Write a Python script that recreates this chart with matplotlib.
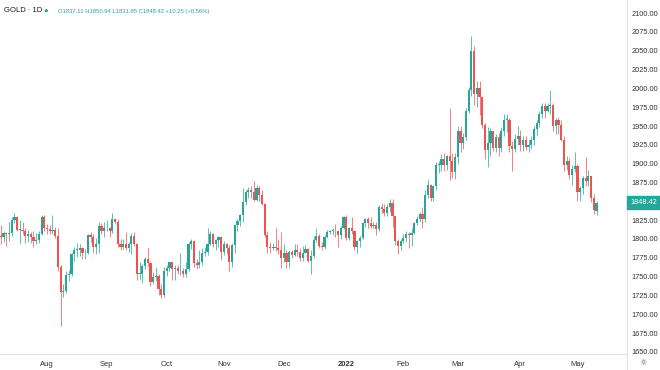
import matplotlib
matplotlib.use("Agg")
import matplotlib.pyplot as plt
import matplotlib.transforms as mtransforms
from matplotlib.lines import Line2D
import numpy as np
import pandas as pd

plt.rcParams['font.family'] = ['Liberation Sans', 'DejaVu Sans']

# daily bars, 2021-07-08 .. 2022-05-11 (weekdays)
dates = pd.bdate_range("2021-07-08", "2022-05-11")

opens = [
    1804, 1803, 1808, 1806, 1808, 1825, 1829, 1812, 1812, 1810, 1804, 1806, 1802, 1797, 1799, 1806, 1829,
    1814, 1813, 1810, 1812, 1804, 1763, 1729, 1731, 1752, 1753, 1780, 1786, 1786, 1788, 1781, 1781, 1805, 1802, 1790, 1793, 1817, 1810,
    1814, 1815, 1810, 1827, 1823, 1794, 1789, 1794, 1788, 1793, 1804, 1794, 1754, 1754, 1764, 1774, 1768, 1743, 1750, 1751, 1734, 1726,
    1757, 1761, 1769, 1760, 1762, 1757, 1757, 1754, 1760, 1793, 1797, 1768, 1765, 1770, 1782, 1783, 1793, 1806, 1793, 1798, 1802,
    1783, 1793, 1788, 1769, 1792, 1818, 1824, 1832, 1849, 1863, 1865, 1863, 1852, 1868, 1859, 1846, 1805, 1790, 1788, 1790, 1788, 1785,
    1775, 1782, 1769, 1783, 1779, 1785, 1783, 1775, 1782, 1787, 1771, 1778, 1799, 1804, 1791, 1790, 1803, 1809, 1811, 1811, 1810, 1805, 1815,
    1829, 1801, 1814, 1810, 1790, 1797, 1801, 1821, 1826, 1821, 1817, 1819, 1813, 1843, 1840, 1835, 1843, 1848, 1830, 1797, 1791,
    1797, 1801, 1807, 1805, 1808, 1821, 1826, 1833, 1827, 1859, 1872, 1855, 1870, 1898, 1898, 1906, 1898, 1910, 1903, 1889,
    1909, 1943, 1928, 1936, 1970, 1998, 2050, 1992, 2000, 1988, 1952, 1918, 1928, 1943, 1921, 1936, 1921, 1944, 1958, 1958, 1923, 1919, 1933,
    1937, 1925, 1932, 1922, 1925, 1931, 1946, 1954, 1966, 1977, 1970, 1976, 1978, 1950, 1958, 1951, 1932, 1898, 1904, 1885, 1893,
    1897, 1863, 1868, 1881, 1877, 1883, 1854, 1837.11,
]
highs = [
    1818, 1811, 1809, 1822, 1829, 1834, 1830, 1825, 1822, 1815, 1812, 1809, 1810, 1808, 1810, 1832, 1832,
    1820, 1818, 1832, 1816, 1814, 1765, 1740, 1757, 1759, 1781, 1789, 1795, 1794, 1790, 1787, 1806, 1809, 1806, 1801, 1823, 1821, 1822,
    1825, 1816, 1834, 1828, 1827, 1800, 1800, 1809, 1796, 1808, 1809, 1795, 1770, 1767, 1776, 1788, 1770, 1756, 1763, 1754, 1740, 1763,
    1765, 1770, 1770, 1765, 1765, 1781, 1761, 1770, 1796, 1800, 1798, 1773, 1785, 1788, 1790, 1814, 1810, 1808, 1800, 1804, 1804,
    1797, 1795, 1792, 1795, 1819, 1827, 1833, 1868, 1865, 1869, 1870, 1877, 1872, 1870, 1865, 1848, 1810, 1796, 1795, 1815, 1800, 1809,
    1793, 1785, 1786, 1786, 1793, 1793, 1788, 1791, 1792, 1788, 1785, 1804, 1815, 1806, 1796, 1805, 1812, 1812, 1815, 1820, 1811, 1817, 1830,
    1832, 1816, 1829, 1811, 1799, 1804, 1823, 1828, 1829, 1829, 1823, 1822, 1845, 1848, 1847, 1846, 1853, 1853, 1831, 1800, 1800,
    1807, 1810, 1809, 1814, 1823, 1830, 1836, 1842, 1865, 1880, 1873, 1872, 1902, 1903, 1913, 1914, 1912, 1974, 1914, 1914,
    1950, 1950, 1941, 1974, 2002, 2070, 2056, 2010, 2010, 1990, 1954, 1949, 1947, 1944, 1940, 1941, 1949, 1966, 1966, 1960, 1930, 1939, 1950,
    1945, 1937, 1937, 1933, 1937, 1950, 1958, 1970, 1981, 1980, 1980, 1998, 1981, 1960, 1962, 1958, 1937, 1910, 1907, 1898, 1916,
    1899, 1871, 1884, 1909, 1892, 1884, 1860, 1850.94,
]
lows = [
    1794, 1796, 1791, 1797, 1804, 1821, 1810, 1794, 1806, 1795, 1796, 1795, 1789, 1794, 1795, 1805, 1810,
    1806, 1807, 1806, 1801, 1758, 1684, 1723, 1728, 1744, 1751, 1771, 1776, 1778, 1774, 1773, 1780, 1796, 1781, 1780, 1781, 1806, 1803,
    1810, 1803, 1808, 1820, 1790, 1785, 1787, 1785, 1783, 1780, 1791, 1745, 1746, 1742, 1760, 1764, 1738, 1740, 1744, 1726, 1721, 1723,
    1751, 1757, 1746, 1746, 1753, 1752, 1749, 1749, 1757, 1787, 1763, 1760, 1762, 1765, 1777, 1779, 1792, 1789, 1785, 1790, 1772,
    1779, 1780, 1758, 1763, 1782, 1811, 1817, 1823, 1845, 1855, 1855, 1850, 1850, 1851, 1845, 1802, 1782, 1781, 1786, 1784, 1780, 1762,
    1770, 1762, 1762, 1775, 1777, 1778, 1771, 1771, 1781, 1770, 1753, 1775, 1796, 1788, 1785, 1787, 1801, 1806, 1805, 1803, 1790, 1800, 1813,
    1799, 1798, 1807, 1785, 1782, 1790, 1800, 1816, 1815, 1814, 1814, 1805, 1811, 1835, 1830, 1831, 1836, 1816, 1792, 1780, 1785,
    1795, 1796, 1788, 1791, 1806, 1818, 1822, 1815, 1822, 1855, 1850, 1850, 1865, 1888, 1890, 1890, 1892, 1878, 1881, 1880,
    1900, 1916, 1920, 1932, 1967, 1990, 1978, 1975, 1965, 1948, 1906, 1895, 1910, 1917, 1916, 1910, 1915, 1937, 1942, 1915, 1890, 1915, 1925,
    1917, 1917, 1918, 1915, 1920, 1925, 1937, 1949, 1960, 1960, 1968, 1966, 1943, 1940, 1940, 1930, 1890, 1891, 1880, 1872, 1889,
    1850, 1851, 1860, 1870, 1871, 1849, 1833, 1831.85,
]
closes = [
    1803, 1808, 1806, 1808, 1825, 1829, 1812, 1812, 1810, 1804, 1806, 1802, 1797, 1799, 1806, 1829, 1814,
    1813, 1810, 1812, 1804, 1763, 1729, 1731, 1752, 1753, 1780, 1786, 1786, 1788, 1781, 1781, 1805, 1802, 1790, 1793, 1817, 1810, 1814,
    1815, 1810, 1827, 1823, 1794, 1789, 1794, 1788, 1793, 1804, 1794, 1754, 1754, 1764, 1774, 1768, 1743, 1750, 1751, 1734, 1726, 1757,
    1761, 1769, 1760, 1762, 1757, 1757, 1754, 1760, 1793, 1797, 1768, 1765, 1770, 1782, 1783, 1793, 1806, 1793, 1798, 1802, 1783,
    1793, 1788, 1769, 1792, 1818, 1824, 1832, 1849, 1863, 1865, 1863, 1852, 1868, 1859, 1846, 1805, 1790, 1788, 1790, 1788, 1785, 1775,
    1782, 1769, 1783, 1779, 1785, 1783, 1775, 1782, 1787, 1771, 1778, 1799, 1804, 1791, 1790, 1803, 1809, 1811, 1811, 1810, 1805, 1815, 1829,
    1801, 1814, 1810, 1790, 1797, 1801, 1821, 1826, 1821, 1817, 1819, 1813, 1843, 1840, 1835, 1843, 1848, 1830, 1797, 1791, 1797,
    1801, 1807, 1805, 1808, 1821, 1826, 1833, 1827, 1859, 1872, 1855, 1870, 1898, 1898, 1906, 1898, 1910, 1903, 1889, 1909,
    1943, 1928, 1936, 1970, 1998, 2050, 1992, 2000, 1988, 1952, 1918, 1928, 1943, 1921, 1936, 1921, 1944, 1958, 1958, 1923, 1919, 1933, 1937,
    1925, 1932, 1922, 1925, 1931, 1946, 1954, 1966, 1977, 1970, 1976, 1978, 1950, 1958, 1951, 1932, 1898, 1904, 1885, 1893, 1897,
    1863, 1868, 1881, 1877, 1883, 1854, 1838, 1848.42,
]

month_labels = ['Aug', 'Sep', 'Oct', 'Nov', 'Dec', '2022', 'Feb', 'Mar', 'Apr', 'May']
price_ticks = np.arange(1650, 2101, 25)

UP = '#26a69a'
DOWN = '#ef5350'

o = np.array(opens, dtype=float)
h = np.array(highs, dtype=float)
l = np.array(lows, dtype=float)
c = np.array(closes, dtype=float)
x = np.arange(len(dates))
cols = np.where(c >= o, UP, DOWN)

fig = plt.figure(figsize=(6.6, 3.7), dpi=100)
ax = fig.add_axes([0, 16 / 370, 627 / 660, 354 / 370])

ax.vlines(x, l, h, colors=cols, lw=0.6, alpha=0.85, zorder=2)
body = np.maximum(np.abs(c - o), 1.0)
ax.bar(x, body, bottom=np.minimum(o, c), width=0.8, color=cols, lw=0, zorder=3)

ax.set_xlim(-0.3, 230.2)
ax.set_ylim(1647.3, 2117.3)

# month ticks at first trading day of each month
first_days = pd.Series(x, index=dates).groupby([dates.year, dates.month]).first().values[1:]
ax.set_xticks(first_days)
ax.set_xticklabels(month_labels, fontsize=5.5, color='#333333')
for lab in ax.get_xticklabels():
    if lab.get_text() == '2022':
        lab.set_fontweight('bold')

ax.yaxis.tick_right()
ax.set_yticks(price_ticks)
ax.set_yticklabels([f'{v:.2f}' for v in price_ticks], fontsize=5.3, color='#333333')
ax.tick_params(axis='both', length=0)
ax.tick_params(axis='x', pad=5)
ax.tick_params(axis='y', pad=3)

for s in ['top', 'left']:
    ax.spines[s].set_visible(False)
for s in ['right', 'bottom']:
    ax.spines[s].set_color('#e0e3eb')
    ax.spines[s].set_linewidth(0.8)

fig.add_artist(Line2D([627 / 660, 627 / 660], [0, 16 / 370], color='#e0e3eb', lw=0.8))

# last price tag
trans = mtransforms.blended_transform_factory(ax.transAxes, ax.transData)
ax.text(1.006, c[-1], f'{c[-1]:.2f}', transform=trans, fontsize=5.3, color='white',
        va='center', ha='left', clip_on=False,
        bbox=dict(boxstyle='square,pad=0.45', fc=UP, ec=UP))

# header
fig.text(4 / 660, 1 - 11 / 370, 'GOLD · 1D', fontsize=5.5, color='#131722', va='center')
fig.text(46 / 660, 1 - 11 / 370, '●', fontsize=5.5, color=UP, va='center', ha='center')
fig.text(58 / 660, 1 - 11 / 370, 'O1837.11 H1850.94 L1831.85 C1848.42 +10.25 (+0.56%)',
         fontsize=4.2, color=UP, va='center')

fig.text(643 / 660, 1 - 362 / 370, '☼', fontsize=6, color='#555555', ha='center', va='center',
         family='DejaVu Sans')

plt.savefig('out.png', dpi=100)
